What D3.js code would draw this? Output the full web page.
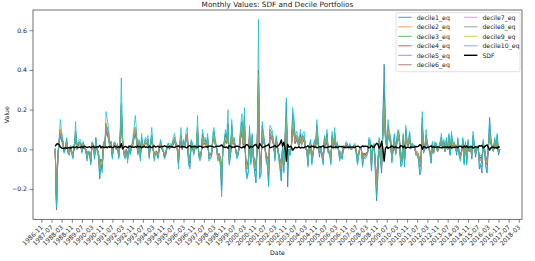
<!DOCTYPE html>
<html><head><meta charset="utf-8">
<script src="https://cdn.jsdelivr.net/npm/d3@7"></script>
<style>body{margin:0;background:#fff}svg{display:block}text{font-family:"DejaVu Sans",sans-serif;fill:#222}</style>
</head><body><svg id="chart" width="535" height="261"></svg>
<script>
// first observation: September 1987 (month-end), monthly to November 2016
const firstYear = 1987, firstMonth = 9;
const seriesNames = ["decile1_eq","decile2_eq","decile3_eq","decile4_eq","decile5_eq","decile6_eq","decile7_eq","decile8_eq","decile9_eq","decile10_eq"];
// monthly values in percent
const decile1_eq = [
/*1987*/0.5,-28,-5,4,
/*1988*/9,7,4,-1,0,5,-2,-3,1,-2,-4,2,
/*1989*/8,1,3,4,3,-1,3,1,-1,-5,-2,-3,
/*1990*/-7,3,2,-5,6,-1,-4,-15,-8,-10,3,1,
/*1991*/12,11,8,2,4,-3,3,3,0,2,-4,4,
/*1992*/20,6,-2,-4,0,-5,2,-2,1,3,8,10,
/*1993*/6,-2,4,-4,6,1,2,5,4,5,-4,3,
/*1994*/6,1,-5,-1,-2,-4,1,4,0,-1,-4,-3,
/*1995*/1,3,1,2,2,5,6,3,1,-7,2,6,
/*1996*/0,4,2,7,8,-7,-9,4,3,-2,1,1,
/*1997*/9,-3,-5,-3,8,4,5,3,6,-5,-4,-4,
/*1998*/4,9,4,1,-5,-4,-7,-21,2,4,8,5,
/*1999*/12,-7,-3,12,4,5,0,-4,-3,3,9,14,
/*2000*/3,17,-9,-14,-11,10,-7,7,-5,-11,-17,2,
/*2001*/30,-14,-13,12,7,3,-5,-8,-18,10,9,7,
/*2002*/3,-5,6,1,-4,-9,-16,0,-11,6,24,-19,
/*2003*/-1,-3,2,18,14,5,7,6,2,8,4,7,
/*2004*/6,1,-1,-8,1,4,-7,-3,4,2,12,4,
/*2005*/-4,1,-4,-7,6,3,8,-2,-2,-7,7,1,
/*2006*/8,1,3,0,-5,-3,-5,1,1,3,2,1,
/*2007*/2,0,1,2,2,-2,-7,-3,1,0,-8,-4,
/*2008*/-4,-3,-2,5,4,-11,1,2,-11,-26,-14,5,
/*2009*/-6,-12,16,42.8,12,2,12,8,6,-6,-1,7,
/*2010*/-2,5,9,7,-8,-8,7,-8,10,4,4,8,
/*2011*/1,3,2,2,-3,-3,-5,-13,-11,16,-2,0,
/*2012*/7,3,1,-2,-7,3,-2,3,3,-1,1,3,
/*2013*/6,1,4,-1,5,0,7,-3,7,3,3,2,
/*2014*/-3,5,-3,-5,-1,5,-7,3,-7,4,-1,1,
/*2015*/-5,7,2,-4,1,1,-10,-8,-12,4,-1,-9,
/*2016*/-12,1,16,6,1,-1,5,2,7,-3,0];
const decile2_eq = [
/*1987*/0.3,-27,-4,3,
/*1988*/9,6,3,-1,1,4,-1,-2,1,-2,-3,2,
/*1989*/8,0,3,3,3,-1,3,1,0,-4,-1,-2,
/*1990*/-5,3,2,-3,4,0,-2,-10,-6,-8,3,1,
/*1991*/12,9,7,2,3,-3,2,3,1,2,-3,4,
/*1992*/20,5,-2,-3,-1,-4,1,-2,1,3,7,10,
/*1993*/6,-2,3,-4,5,1,2,4,3,4,-3,3,
/*1994*/6,1,-4,-1,-2,-3,1,3,1,-1,-3,-2,
/*1995*/1,2,1,2,1,4,5,3,1,-6,2,6,
/*1996*/1,3,1,6,7,-5,-6,3,2,-2,1,1,
/*1997*/10,-2,-4,-2,6,3,4,2,5,-4,-3,-2,
/*1998*/5,7,3,1,-4,-3,-5,-17,1,2,6,4,
/*1999*/12,-5,-3,9,3,4,0,-3,-2,1,7,11,
/*2000*/3,13,-6,-9,-7,7,-5,5,-4,-7,-10,2,
/*2001*/36,-9,-7,9,5,2,-4,-5,-12,8,7,5,
/*2002*/3,-4,5,1,-3,-6,-10,1,-8,5,16,-7,
/*2003*/0,-2,2,14,10,4,6,5,1,6,3,5,
/*2004*/6,1,0,-6,1,3,-5,-2,3,2,9,3,
/*2005*/-2,1,-3,-5,5,3,6,-1,-1,-5,6,1,
/*2006*/7,1,3,0,-4,-2,-3,1,1,3,2,1,
/*2007*/2,0,1,1,2,-1,-5,-2,1,0,-6,-3,
/*2008*/-3,-3,-1,4,3,-7,1,2,-7,-20,-9,4,
/*2009*/-4,-8,10,22,7,1,10,6,5,-5,0,5,
/*2010*/-2,4,7,5,-6,-5,5,-6,8,3,3,6,
/*2011*/1,2,1,1,-2,-2,-3,-8,-7,13,-1,1,
/*2012*/6,2,1,-1,-5,3,-1,3,2,-1,1,3,
/*2013*/5,1,3,-1,4,0,5,-2,6,2,3,1,
/*2014*/-1,4,-2,-4,-1,4,-5,3,-5,3,-1,1,
/*2015*/-3,6,2,-2,1,1,-6,-5,-6,3,0,-5,
/*2016*/-7,1,9,4,1,-1,4,1,5,-1,0];
const decile3_eq = [
/*1987*/-0.2,-26,-3,3,
/*1988*/8,5,3,-1,0,3,-1,-2,1,-1,-3,2,
/*1989*/7,0,2,3,3,-1,2,1,0,-3,-1,-2,
/*1990*/-5,2,2,-2,3,0,-2,-9,-5,-7,2,1,
/*1991*/11,8,6,2,2,-3,2,2,1,2,-3,3,
/*1992*/16,4,-2,-3,0,-4,1,-2,1,3,6,9,
/*1993*/5,-2,3,-3,4,1,2,3,3,4,-3,2,
/*1994*/5,0,-3,-1,-2,-3,1,3,0,-1,-3,-2,
/*1995*/1,2,1,2,1,3,4,2,1,-5,2,6,
/*1996*/0,3,1,5,6,-4,-6,3,2,-2,1,1,
/*1997*/9,-2,-3,-2,5,3,3,2,4,-3,-3,-2,
/*1998*/4,6,3,1,-3,-3,-4,-15,1,2,5,3,
/*1999*/10,-4,-2,8,3,3,0,-3,-2,1,6,10,
/*2000*/3,12,-5,-8,-7,6,-4,4,-3,-7,-9,2,
/*2001*/35,-8,-7,8,4,2,-3,-4,-11,7,6,5,
/*2002*/2,-3,4,1,-3,-6,-9,0,-7,4,14,-7,
/*2003*/0,-2,2,12,9,3,5,4,1,5,3,4,
/*2004*/5,1,0,-5,1,3,-4,-2,3,2,8,3,
/*2005*/-2,1,-2,-4,4,2,5,-1,-1,-4,5,1,
/*2006*/6,1,2,0,-3,-2,-3,1,1,2,2,1,
/*2007*/2,0,1,1,2,-1,-4,-2,1,0,-5,-2,
/*2008*/-3,-2,-1,3,3,-6,1,2,-6,-19,-8,3,
/*2009*/-4,-7,9,28,6,1,8,5,4,-4,0,4,
/*2010*/-2,3,6,5,-5,-5,4,-5,7,3,2,5,
/*2011*/1,2,1,1,-2,-2,-3,-7,-6,11,-1,1,
/*2012*/5,2,1,-1,-4,2,-1,2,2,-1,1,2,
/*2013*/4,1,3,-1,3,0,4,-2,5,2,2,1,
/*2014*/-1,3,-2,-3,-1,3,-4,2,-4,3,-1,1,
/*2015*/-2,5,2,-2,1,1,-5,-4,-5,3,0,-4,
/*2016*/-6,1,8,3,1,0,3,1,4,-1,0];
const decile4_eq = [
/*1987*/0.4,-30.5,-5,4,
/*1988*/10,6,4,-1,1,4,-1,-2,1,-2,-3,2,
/*1989*/9,0,3,3,3,-1,3,1,0,-4,-1,-2,
/*1990*/-6,3,2,-3,4,0,-2,-11,-7,-9,3,1,
/*1991*/13,10,7,2,3,-4,2,3,1,2,-4,4,
/*1992*/22,5,-2,-4,-1,-5,1,-2,1,3,7,11,
/*1993*/6,-2,3,-4,5,1,2,4,3,5,-3,3,
/*1994*/7,1,-4,-1,-2,-4,1,3,1,-1,-4,-2,
/*1995*/1,2,1,2,1,4,5,3,1,-7,2,7,
/*1996*/1,3,1,6,7,-6,-7,3,2,-2,1,1,
/*1997*/11,-3,-4,-2,7,3,4,2,5,-4,-3,-3,
/*1998*/5,7,3,1,-4,-3,-5,-18,1,2,7,4,
/*1999*/13,-5,-3,10,3,4,0,-3,-2,1,8,12,
/*2000*/3,14,-7,-10,-8,8,-5,5,-4,-8,-11,2,
/*2001*/40,-10,-8,9,5,2,-4,-5,-13,8,7,6,
/*2002*/3,-4,5,1,-3,-7,-11,1,-8,5,17,-8,
/*2003*/0,-2,2,14,11,4,6,5,1,7,3,5,
/*2004*/6,1,0,-6,1,3,-5,-2,3,2,10,3,
/*2005*/-2,1,-3,-5,5,3,7,-1,-1,-5,6,1,
/*2006*/7,1,3,0,-4,-2,-3,1,1,3,2,1,
/*2007*/2,0,1,1,2,-1,-5,-2,1,0,-6,-3,
/*2008*/-3,-3,-1,4,3,-8,1,2,-8,-21,-10,4,
/*2009*/-5,-9,12,30,8,1,10,6,5,-5,0,5,
/*2010*/-2,4,7,6,-6,-6,5,-6,8,3,3,6,
/*2011*/1,2,1,1,-2,-2,-3,-9,-7,13,-1,1,
/*2012*/7,2,1,-1,-5,3,-1,3,2,-1,1,3,
/*2013*/5,1,3,-1,4,0,5,-2,6,2,3,1,
/*2014*/-1,4,-2,-4,-1,4,-5,3,-5,3,-1,1,
/*2015*/-3,6,2,-2,1,1,-6,-5,-7,3,0,-6,
/*2016*/-8,1,10,4,1,-1,4,1,5,-2,0];
const decile5_eq = [
/*1987*/0.1,-25,-3,3,
/*1988*/7,5,3,-1,1,3,-1,-2,1,-1,-2,1,
/*1989*/7,0,2,3,2,-1,2,1,0,-3,-1,-2,
/*1990*/-4,2,2,-2,3,0,-2,-8,-5,-6,2,1,
/*1991*/10,7,6,2,2,-2,2,2,1,2,-3,3,
/*1992*/15,4,-1,-3,0,-3,1,-1,1,2,6,8,
/*1993*/5,-1,3,-3,4,1,2,3,3,3,-2,2,
/*1994*/5,1,-3,-1,-1,-3,1,2,1,-1,-3,-2,
/*1995*/1,2,1,2,1,3,4,2,1,-5,2,5,
/*1996*/1,3,1,5,5,-4,-5,3,2,-1,1,1,
/*1997*/8,-2,-3,-1,5,3,3,2,4,-3,-2,-2,
/*1998*/4,6,3,1,-3,-2,-4,-14,1,2,5,3,
/*1999*/10,-4,-2,8,3,3,0,-2,-2,1,6,9,
/*2000*/3,11,-5,-8,-6,6,-4,4,-3,-6,-8,2,
/*2001*/30,-7,-6,7,4,2,-3,-4,-10,6,6,5,
/*2002*/2,-3,4,1,-2,-5,-8,1,-6,4,13,-6,
/*2003*/0,-2,2,11,8,3,5,4,1,5,3,4,
/*2004*/5,1,0,-5,1,3,-4,-2,3,2,8,3,
/*2005*/-2,1,-2,-4,4,2,5,-1,-1,-4,5,1,
/*2006*/6,1,2,0,-3,-2,-3,1,1,2,2,1,
/*2007*/2,0,1,1,2,-1,-4,-2,1,0,-5,-2,
/*2008*/-3,-2,-1,3,3,-6,1,2,-6,-18,-7,3,
/*2009*/-3,-6,8,20,6,1,8,5,4,-4,0,4,
/*2010*/-1,3,5,4,-5,-4,4,-5,6,3,2,5,
/*2011*/1,2,1,1,-2,-2,-3,-7,-5,10,-1,1,
/*2012*/5,2,1,-1,-4,2,-1,2,2,-1,1,2,
/*2013*/4,1,3,-1,3,0,4,-2,5,2,2,1,
/*2014*/-1,3,-2,-3,-1,3,-4,2,-4,3,-1,1,
/*2015*/-2,5,2,-2,1,1,-5,-4,-5,2,0,-4,
/*2016*/-6,1,7,3,1,0,3,1,4,-1,0];
const decile6_eq = [
/*1987*/-0.3,-30,-4,3,
/*1988*/8,5,3,-1,0,3,-1,-2,1,-2,-3,2,
/*1989*/7,1,2,3,3,-1,2,0,0,-3,-1,-2,
/*1990*/-5,2,1,-3,3,0,-2,-9,-6,-7,2,1,
/*1991*/10,8,6,1,2,-3,2,2,0,2,-3,3,
/*1992*/17,4,-2,-3,-1,-4,1,-2,1,2,6,9,
/*1993*/5,-2,3,-3,4,1,2,3,3,4,-3,2,
/*1994*/5,1,-3,-1,-2,-3,0,3,1,-1,-3,-2,
/*1995*/1,2,0,2,1,3,4,2,1,-5,1,5,
/*1996*/0,3,1,5,6,-5,-6,3,2,-2,1,0,
/*1997*/8,-2,-4,-2,5,3,3,2,4,-4,-3,-2,
/*1998*/4,6,3,1,-3,-3,-5,-16,1,2,5,3,
/*1999*/9,-4,-2,8,3,3,0,-3,-2,1,6,9,
/*2000*/2,11,-6,-8,-7,6,-4,4,-4,-7,-9,2,
/*2001*/28,-8,-7,7,4,2,-3,-5,-11,7,6,5,
/*2002*/2,-3,4,1,-3,-6,-9,0,-7,4,13,-7,
/*2003*/-1,-2,2,11,8,3,5,4,1,5,3,4,
/*2004*/5,0,0,-5,1,3,-4,-2,3,2,8,3,
/*2005*/-2,1,-2,-4,4,2,5,-1,-1,-4,5,1,
/*2006*/6,1,2,0,-3,-2,-3,1,1,2,2,1,
/*2007*/1,0,1,1,2,-1,-4,-2,1,0,-5,-2,
/*2008*/-3,-2,-1,3,3,-7,1,2,-7,-19,-8,3,
/*2009*/-4,-7,9,22,6,1,8,5,4,-4,0,4,
/*2010*/-2,3,6,4,-5,-5,4,-5,6,3,2,5,
/*2011*/1,2,1,1,-2,-2,-3,-7,-6,10,-1,1,
/*2012*/5,2,1,-1,-4,2,-1,2,2,-1,1,2,
/*2013*/4,1,3,-1,3,0,4,-2,5,2,2,1,
/*2014*/-1,3,-2,-3,-1,3,-4,2,-4,3,-1,1,
/*2015*/-2,5,2,-2,1,1,-5,-4,-5,3,0,-4,
/*2016*/-6,1,8,3,1,0,3,1,4,-1,0];
const decile7_eq = [
/*1987*/0.2,-27,-4,4,
/*1988*/9,6,3,-1,1,4,-1,-2,1,-2,-3,2,
/*1989*/8,0,3,3,3,-1,3,1,0,-4,-1,-2,
/*1990*/-5,3,2,-3,4,0,-2,-10,-6,-8,3,1,
/*1991*/11,9,7,2,3,-3,2,3,1,2,-3,3,
/*1992*/19,5,-2,-3,-1,-4,1,-2,1,3,7,10,
/*1993*/6,-2,3,-4,5,1,2,4,3,4,-3,3,
/*1994*/6,1,-4,-1,-2,-3,1,3,1,-1,-3,-2,
/*1995*/1,2,1,2,1,4,5,2,1,-6,2,6,
/*1996*/1,3,1,5,6,-5,-6,3,2,-2,1,1,
/*1997*/9,-2,-4,-2,6,3,4,2,5,-4,-3,-2,
/*1998*/5,7,3,1,-4,-3,-5,-16,1,2,6,4,
/*1999*/11,-5,-3,9,3,4,0,-3,-2,1,7,10,
/*2000*/3,12,-6,-9,-7,7,-5,5,-4,-7,-10,2,
/*2001*/33,-9,-7,8,5,2,-4,-5,-12,7,6,5,
/*2002*/2,-4,4,1,-3,-6,-10,1,-7,5,15,-7,
/*2003*/0,-2,2,13,10,4,5,4,1,6,3,5,
/*2004*/5,1,0,-6,1,3,-5,-2,3,2,9,3,
/*2005*/-2,1,-3,-5,4,3,6,-1,-1,-5,5,1,
/*2006*/7,1,2,0,-4,-2,-3,1,1,3,2,1,
/*2007*/2,0,1,1,2,-1,-5,-2,1,0,-6,-3,
/*2008*/-3,-3,-1,4,3,-7,1,2,-7,-20,-9,4,
/*2009*/-4,-8,10,24,7,1,9,6,4,-4,0,5,
/*2010*/-2,4,6,5,-6,-5,5,-6,7,3,3,6,
/*2011*/1,2,1,1,-2,-2,-3,-8,-6,12,-1,1,
/*2012*/6,2,1,-1,-4,3,-1,3,2,-1,1,3,
/*2013*/5,1,3,-1,4,0,5,-2,6,2,3,1,
/*2014*/-1,4,-2,-4,-1,4,-5,3,-5,3,-1,1,
/*2015*/-3,6,2,-2,1,1,-6,-5,-6,3,0,-5,
/*2016*/-7,1,9,4,1,-1,4,1,5,-1,0];
const decile8_eq = [
/*1987*/0,-24,-3,3,
/*1988*/7,4,2,-1,1,3,-1,-1,1,-1,-2,1,
/*1989*/6,0,2,2,2,-1,2,1,0,-3,-1,-1,
/*1990*/-4,2,1,-2,3,0,-1,-8,-5,-6,2,1,
/*1991*/9,7,5,1,2,-2,1,2,0,1,-2,3,
/*1992*/14,4,-1,-2,0,-3,1,-1,1,2,5,7,
/*1993*/4,-1,2,-3,4,1,1,3,2,3,-2,2,
/*1994*/5,0,-3,-1,-1,-2,0,2,0,-1,-2,-1,
/*1995*/1,1,0,1,1,3,4,2,1,-4,1,5,
/*1996*/0,2,1,4,5,-4,-5,2,1,-1,1,0,
/*1997*/7,-2,-3,-1,4,2,3,1,4,-3,-2,-2,
/*1998*/4,5,2,1,-3,-2,-4,-13,1,1,4,3,
/*1999*/9,-4,-2,7,2,3,0,-2,-1,1,5,8,
/*2000*/2,10,-5,-7,-6,5,-4,4,-3,-6,-8,1,
/*2001*/27,-7,-6,6,4,1,-3,-4,-9,6,5,4,
/*2002*/2,-3,3,1,-2,-5,-7,0,-6,4,12,-6,
/*2003*/0,-1,1,10,7,3,4,3,1,5,2,4,
/*2004*/4,0,0,-4,0,2,-4,-1,2,1,7,2,
/*2005*/-1,0,-2,-4,3,2,5,-1,-1,-4,4,0,
/*2006*/5,0,2,0,-3,-1,-2,1,0,2,1,0,
/*2007*/1,0,0,1,1,-1,-4,-1,0,0,-4,-2,
/*2008*/-2,-2,-1,3,2,-6,1,1,-6,-17,-7,3,
/*2009*/-3,-6,7,18,5,1,7,4,3,-3,0,4,
/*2010*/-1,3,5,4,-4,-4,4,-4,5,2,2,4,
/*2011*/0,1,1,1,-1,-1,-2,-6,-5,9,-1,0,
/*2012*/4,1,0,-1,-3,2,-1,2,1,0,0,2,
/*2013*/4,0,2,0,3,0,4,-1,4,1,2,1,
/*2014*/-1,3,-1,-3,0,3,-4,2,-4,2,0,1,
/*2015*/-2,4,1,-1,0,1,-4,-3,-4,2,0,-4,
/*2016*/-5,1,6,3,0,0,3,1,4,-1,0];
const decile9_eq = [
/*1987*/0.5,-27.5,-4,4,
/*1988*/10,6,4,-1,1,4,-1,-2,1,-2,-3,2,
/*1989*/9,0,3,3,3,-1,3,1,0,-4,-1,-2,
/*1990*/-5,3,2,-3,4,0,-2,-10,-6,-8,3,1,
/*1991*/13,10,7,2,3,-3,2,3,1,2,-3,4,
/*1992*/23,5,-2,-4,-1,-5,1,-2,1,3,7,11,
/*1993*/6,-2,3,-4,5,1,2,4,3,5,-3,3,
/*1994*/7,1,-4,-1,-2,-3,1,3,1,-1,-3,-2,
/*1995*/1,2,1,2,1,4,5,3,1,-6,2,7,
/*1996*/1,3,1,6,7,-5,-6,3,2,-2,1,1,
/*1997*/11,-3,-4,-2,6,3,4,2,5,-4,-3,-3,
/*1998*/5,7,3,1,-4,-3,-5,-16,1,2,6,4,
/*1999*/13,-5,-3,10,3,4,0,-3,-2,1,8,12,
/*2000*/3,14,-6,-10,-8,8,-5,5,-4,-8,-10,2,
/*2001*/38,-10,-8,9,5,2,-4,-5,-12,8,7,6,
/*2002*/3,-4,5,1,-3,-6,-10,1,-8,5,17,-7,
/*2003*/0,-2,2,14,10,4,6,5,1,6,3,5,
/*2004*/6,1,0,-6,1,3,-5,-2,3,2,10,3,
/*2005*/-2,1,-3,-5,5,3,6,-1,-1,-5,6,1,
/*2006*/7,1,3,0,-4,-2,-3,1,1,3,2,1,
/*2007*/2,0,1,1,2,-1,-5,-2,1,0,-6,-3,
/*2008*/-3,-3,-1,4,3,-7,1,2,-7,-20,-9,4,
/*2009*/-4,-8,10,23,7,1,10,6,5,-5,0,5,
/*2010*/-2,4,7,5,-6,-5,5,-6,8,3,3,6,
/*2011*/1,2,1,1,-2,-2,-3,-8,-7,13,-1,1,
/*2012*/7,2,1,-1,-5,3,-1,3,2,-1,1,3,
/*2013*/5,1,3,-1,4,0,5,-2,6,2,3,1,
/*2014*/-1,4,-2,-4,-1,4,-5,3,-5,3,-1,1,
/*2015*/-3,6,2,-2,1,1,-6,-5,-6,3,0,-5,
/*2016*/-7,1,9,4,1,-1,4,1,5,-1,0];
const decile10_eq = [
/*1987*/0,-29.8,-4,5,
/*1988*/15,9,5,-2,1,6,-2,-3,2,-3,-5,3,
/*1989*/14,0,4,5,5,-2,4,1,0,-6,-1,-3,
/*1990*/-8,4,3,-4,5,0,-3,-14,-9,-12,4,2,
/*1991*/19,15,11,3,4,-5,3,4,1,3,-5,5,
/*1992*/36,8,-3,-5,-1,-7,2,-3,2,5,11,17,
/*1993*/9,-3,5,-6,8,2,3,6,5,7,-5,4,
/*1994*/11,1,-6,-2,-3,-5,1,5,1,-1,-5,-3,
/*1995*/2,3,1,3,2,6,8,4,2,-10,3,11,
/*1996*/1,5,2,9,11,-8,-10,5,3,-3,2,1,
/*1997*/17,-4,-6,-3,10,5,6,3,8,-6,-5,-4,
/*1998*/8,11,5,2,-6,-5,-8,-24,1,3,10,6,
/*1999*/20,-8,-4,15,5,6,0,-5,-3,2,12,18,
/*2000*/5,21,-10,-15,-12,12,-8,8,-6,-12,-16,3,
/*2001*/65.4,-15,-12,14,8,3,-6,-8,-19,12,11,9,
/*2002*/4,-6,7,2,-5,-10,-15,1,-12,8,26,-10,
/*2003*/0,-3,3,21,16,6,9,7,2,10,5,8,
/*2004*/9,1,0,-9,1,5,-8,-3,5,3,15,5,
/*2005*/-3,1,-4,-8,7,4,10,-2,-2,-8,9,1,
/*2006*/11,1,4,0,-6,-3,-5,2,1,4,3,1,
/*2007*/3,0,1,2,3,-2,-8,-3,1,0,-9,-4,
/*2008*/-5,-4,-2,6,5,-11,2,3,-10,-24,-12,6,
/*2009*/-5,-10,14,33,10,2,15,9,7,-7,0,8,
/*2010*/-3,6,10,8,-9,-8,8,-9,12,5,4,9,
/*2011*/1,3,2,2,-3,-3,-5,-12,-10,19,-2,1,
/*2012*/10,3,1,-2,-7,4,-2,4,3,-1,1,4,
/*2013*/8,1,5,-1,6,0,8,-3,9,3,4,2,
/*2014*/-2,6,-3,-6,-1,6,-8,4,-8,5,-1,2,
/*2015*/-4,9,3,-3,1,2,-9,-7,-9,5,0,-8,
/*2016*/-11,2,14,6,1,-1,6,2,8,-2,0];
const SDF = [
/*1987*/1.5,2.6,2.8,2.3,
/*1988*/1.2,0.6,0.5,0.4,0.8,0.5,0.7,0.9,0.6,1.0,1.2,0.8,
/*1989*/1.0,1.3,0.8,1.1,0.9,1.4,0.7,1.6,1.2,0.9,1.1,1.3,
/*1990*/0.8,1.2,1.5,0.9,1.0,1.3,1.1,2.0,0.6,1.4,1.0,0.9,
/*1991*/1.2,0.7,1.4,1.0,1.3,0.8,1.1,1.5,1.2,1.0,1.4,0.9,
/*1992*/2.8,0.2,1.0,1.5,1.2,0.8,1.3,1.6,1.0,1.2,0.9,1.4,
/*1993*/1.0,1.6,1.1,1.4,0.7,1.3,1.5,1.0,1.2,0.8,1.6,1.1,
/*1994*/0.9,1.2,1.7,1.1,1.3,1.6,1.0,1.2,1.5,1.3,1.8,1.4,
/*1995*/1.3,1.1,1.5,1.2,1.4,1.0,0.9,1.3,1.5,1.7,1.2,1.1,
/*1996*/1.4,1.2,1.3,0.8,0.9,1.6,1.8,1.1,1.3,1.4,1.5,1.2,
/*1997*/0.9,1.5,1.6,1.4,0.8,1.1,1.2,1.3,1.0,1.6,1.7,1.5,
/*1998*/1.3,1.1,1.2,1.4,1.6,1.5,1.7,2.2,1.4,1.0,0.9,1.2,
/*1999*/0.5,1.8,1.6,0.8,1.2,1.1,1.4,1.6,1.5,1.3,0.9,0.7,
/*2000*/1.4,0.8,2.1,2.4,1.8,0.6,1.6,1.0,1.5,2.2,2.5,1.2,
/*2001*/0.5,2.9,2.0,0.9,1.1,1.4,1.7,1.9,2.6,0.8,0.9,1.2,
/*2002*/1.5,1.9,1.1,1.4,2.0,2.8,4.7,1.5,3.5,0.5,-6.0,2.5,
/*2003*/1.0,1.5,1.2,-0.5,0.3,1.0,0.8,0.9,1.2,0.6,1.0,0.8,
/*2004*/0.9,1.2,1.3,1.8,1.1,1.0,1.6,1.4,1.1,1.2,0.7,1.0,
/*2005*/1.4,1.1,1.5,1.7,0.9,1.0,0.8,1.3,1.2,1.6,0.8,1.1,
/*2006*/0.9,1.2,1.0,1.1,1.5,1.3,1.4,1.0,1.1,0.9,1.0,1.1,
/*2007*/1.0,1.2,1.1,1.0,0.9,1.3,1.6,1.4,1.0,1.1,1.7,1.4,
/*2008*/1.6,1.5,1.3,0.8,0.9,2.0,1.1,1.0,2.2,3.0,2.6,0.6,
/*2009*/1.5,4.0,0.2,-6.0,0.5,1.3,0.4,0.9,1.0,1.8,1.2,0.8,
/*2010*/1.3,0.9,0.7,0.8,1.8,1.7,0.8,1.7,0.5,1.0,1.1,0.7,
/*2011*/1.2,1.0,1.1,1.1,1.4,1.3,1.5,2.3,2.1,0.0,1.4,1.2,
/*2012*/0.6,1.0,1.1,1.3,1.7,0.9,1.3,1.0,1.1,1.2,1.1,0.9,
/*2013*/0.7,1.1,0.9,1.2,0.8,1.2,0.7,1.4,0.6,1.0,0.9,1.1,
/*2014*/1.3,0.8,1.4,1.6,1.2,0.8,1.7,1.0,1.7,0.8,1.2,1.1,
/*2015*/1.4,0.6,1.0,1.3,1.1,1.0,1.8,1.6,1.9,0.7,1.2,1.8,
/*2016*/2.2,1.1,-0.4,0.7,1.1,1.2,0.6,1.0,0.4,1.3,1.0];
const yTickValues = [-0.2, 0.0, 0.2, 0.4, 0.6];
const xTickLabels = ["1986-11","1987-07","1988-03","1988-11","1989-07","1990-03","1990-11","1991-07","1992-03","1992-11","1993-07","1994-03","1994-11","1995-07","1996-03","1996-11","1997-07","1998-03","1998-11","1999-07","2000-03","2000-11","2001-07","2002-03","2002-11","2003-07","2004-03","2004-11","2005-07","2006-03","2006-11","2007-07","2008-03","2008-11","2009-07","2010-03","2010-11","2011-07","2012-03","2012-11","2013-07","2014-03","2014-11","2015-07","2016-03","2016-11","2017-07","2018-03"];
const colors = ["#1f77b4","#ff7f0e","#2ca02c","#d62728","#9467bd","#8c564b","#e377c2","#7f7f7f","#bcbd22","#17becf"];

const deciles = [decile1_eq,decile2_eq,decile3_eq,decile4_eq,decile5_eq,decile6_eq,decile7_eq,decile8_eq,decile9_eq,decile10_eq];
const monthEnd = i => new Date(Date.UTC(firstYear, firstMonth + i, 0));

const L = 33, R = 522, T = 10, B = 219.3;
const svg = d3.select("#chart");

const allDates = d3.range(d3.max(deciles, s => s.length)).map(monthEnd);
const [d0, d1] = d3.extent(allDates);
const span = d1 - d0;
const x = d3.scaleUtc().domain([new Date(+d0 - span*0.05), new Date(+d1 + span*0.05)]).range([L, R]);
const allVals = deciles.concat([SDF]).flat().map(v => v/100);
const [vmin, vmax] = d3.extent(allVals);
const vr = vmax - vmin;
const y = d3.scaleLinear().domain([vmin - vr*0.05, vmax + vr*0.05]).range([B, T]);

const line = d3.line().x((d,i) => x(monthEnd(i))).y(d => y(d/100));

const plot = svg.append("g");
deciles.forEach((s, k) => {
  plot.append("path").attr("d", line(s)).attr("fill","none")
    .attr("stroke", colors[k]).attr("stroke-width", 0.9).attr("stroke-opacity", 0.85)
    .attr("stroke-linejoin","round");
});
plot.append("path").attr("d", line(SDF)).attr("fill","none")
  .attr("stroke","#000").attr("stroke-width",1.4).attr("stroke-linejoin","round");

// axes
const parseM = d3.utcParse("%Y-%m");
const xAxis = d3.axisBottom(x).tickValues(xTickLabels.map(parseM)).tickSize(3.5).tickFormat((d,i)=>xTickLabels[i]);
const gx = svg.append("g").attr("transform",`translate(0,${B})`).call(xAxis);
gx.select(".domain").remove();
gx.selectAll(".tick line").attr("stroke","#333").attr("stroke-width",0.6);
gx.selectAll(".tick text").attr("font-size",6.2).attr("fill","#222")
  .attr("text-anchor","end").attr("dy",null).attr("y",null)
  .attr("transform","translate(1.5,8.5) rotate(-45)");

const yAxis = d3.axisLeft(y).tickValues(yTickValues).tickSize(3.5)
  .tickFormat(d => d3.format(".1f")(d).replace("-", "\u2212"));
const gy = svg.append("g").attr("transform",`translate(${L},0)`).call(yAxis);
gy.select(".domain").remove();
gy.selectAll(".tick line").attr("stroke","#333").attr("stroke-width",0.6);
gy.selectAll(".tick text").attr("font-size",6.2).attr("fill","#222").attr("x",-6);

svg.append("rect").attr("x",L).attr("y",T).attr("width",R-L).attr("height",B-T)
  .attr("fill","none").attr("stroke","#333").attr("stroke-width",0.7);

svg.append("text").attr("x",(L+R)/2).attr("y",7).attr("text-anchor","middle")
  .attr("font-size",7.3).text("Monthly Values: SDF and Decile Portfolios");
svg.append("text").attr("x",(L+R)/2).attr("y",255).attr("text-anchor","middle")
  .attr("font-size",6.2).text("Date");
svg.append("text").attr("transform",`translate(9,${(T+B)/2}) rotate(-90)`).attr("text-anchor","middle")
  .attr("font-size",6.2).text("Value");

// legend
const lg = svg.append("g");
lg.append("rect").attr("x",396).attr("y",12.7).attr("width",124).attr("height",59)
  .attr("rx",1.5).attr("fill","#fff").attr("fill-opacity",0.8).attr("stroke","#ccc").attr("stroke-width",0.6);
const legendItems = seriesNames.map((n,k)=>({name:n,color:colors[k],w:0.9})).concat([{name:"SDF",color:"#000",w:1.4}]);
legendItems.forEach((it, k) => {
  const col = k < 6 ? 0 : 1, row = k < 6 ? k : k - 6;
  const lx = col ? 464 : 398.3, ly = 17.3 + row*9.5;
  lg.append("line").attr("x1",lx).attr("x2",lx+13.4).attr("y1",ly).attr("y2",ly)
    .attr("stroke",it.color).attr("stroke-width",it.w).attr("stroke-opacity", it.name==="SDF"?1:0.85);
  lg.append("text").attr("x",lx+18.4).attr("y",ly+2.2).attr("font-size",6.2).text(it.name);
});
</script></body></html>
